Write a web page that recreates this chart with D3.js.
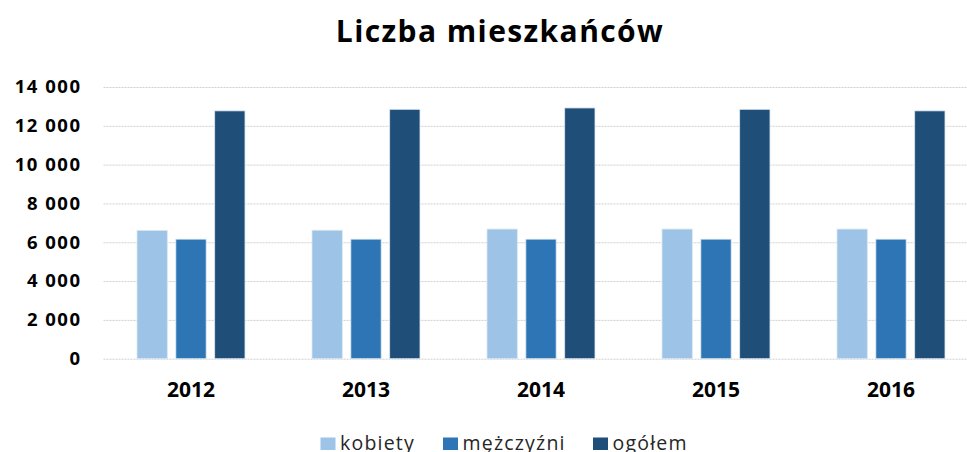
<!DOCTYPE html>
<html>
<head>
<meta charset="utf-8">
<script src="https://cdnjs.cloudflare.com/ajax/libs/d3/7.8.5/d3.min.js"></script>
<style>
  body { margin: 0; background: #fff; }
  svg { display: block; font-family: "Open Sans", sans-serif; }
</style>
</head>
<body>
<div id="viz"></div>
<script>
// values
var years = ["2012", "2013", "2014", "2015", "2016"];
var seriesNames = ["kobiety", "mężczyźni", "ogółem"];
var kobiety = [6610, 6620, 6680, 6680, 6680];
var mezczyzni = [6160, 6160, 6160, 6160, 6160];
var ogolem = [12770, 12850, 12920, 12850, 12770];
var yTicks = [0, 2000, 4000, 6000, 8000, 10000, 12000, 14000];
var colors = ["#9dc3e6", "#2e75b6", "#1f4e79"];

var width = 967, height = 452;
var plotLeft = 103.5, plotRight = 978.5, plotTop = 87, plotBottom = 358.7;

var table = years.map((y, i) => ({ year: y, values: [kobiety[i], mezczyzni[i], ogolem[i]] }));

var pl = d3.formatLocale({ decimal: ",", thousands: "\u00a0", grouping: [3], currency: ["", ""] });
var fmt = pl.format(",d");

var x0 = d3.scaleBand().domain(years).range([plotLeft, plotRight])
  .paddingInner(0.383).paddingOuter(0.1915);
var x1 = d3.scaleBand().domain(seriesNames).range([0, x0.bandwidth()])
  .paddingInner(0.22).paddingOuter(0);
var y = d3.scaleLinear().domain([0, 14000]).range([plotBottom, plotTop]);
var color = d3.scaleOrdinal().domain(seriesNames).range(colors);

var svg = d3.select("#viz").append("svg")
  .attr("width", width)
  .attr("height", height);

// title
svg.append("text")
  .attr("x", 500).attr("y", 42)
  .attr("text-anchor", "middle")
  .style("font-size", "30px")
  .style("font-weight", 700)
  .style("letter-spacing", "1.4px")
  .attr("fill", "#000")
  .text("Liczba mieszkańców");

// y axis with grid
var yAxis = svg.append("g")
  .attr("transform", "translate(" + plotLeft + ",0)")
  .call(d3.axisLeft(y).tickValues(yTicks).tickFormat(fmt).tickSize(-(width - plotLeft)).tickPadding(22));
yAxis.attr("font-family", null).attr("font-size", null);
yAxis.select(".domain").remove();
yAxis.selectAll(".tick line")
  .attr("stroke", "#cfcfcf")
  .attr("stroke-width", 1)
  .attr("stroke-dasharray", "2,1");
yAxis.selectAll(".tick text")
  .style("font-size", "18.5px")
  .style("font-weight", 700)
  .style("letter-spacing", "1.5px")
  .attr("fill", "#000");

// bars
var groups = svg.append("g").selectAll("g")
  .data(table)
  .join("g")
  .attr("transform", d => "translate(" + x0(d.year) + ",0)");

groups.selectAll("rect")
  .data(d => d.values.map((v, i) => ({ name: seriesNames[i], value: v })))
  .join("rect")
  .attr("x", d => x1(d.name))
  .attr("y", d => y(d.value))
  .attr("width", x1.bandwidth())
  .attr("height", d => y(0) - y(d.value))
  .attr("fill", d => color(d.name))
  .attr("stroke", "#dbe7f3")
  .attr("stroke-width", 0.8);

// x axis labels
var xAxis = svg.append("g")
  .attr("transform", "translate(0," + plotBottom + ")")
  .call(d3.axisBottom(x0).tickSize(0).tickPadding(23.5));
xAxis.attr("font-family", null).attr("font-size", null);
xAxis.select(".domain").remove();
xAxis.selectAll(".tick text")
  .style("font-size", "21px")
  .style("font-weight", 700)
  .attr("fill", "#000");

// legend
var legendX = [320.5, 443, 593];
var legend = svg.append("g").selectAll("g")
  .data(seriesNames)
  .join("g")
  .attr("transform", (d, i) => "translate(" + legendX[i] + ",437.5)");
legend.append("rect")
  .attr("width", 15).attr("height", 12.5)
  .attr("fill", d => color(d));
legend.append("text")
  .attr("x", 19.5).attr("y", 12)
  .style("font-size", "19.5px")
  .style("letter-spacing", "1.2px")
  .attr("fill", "#262626")
  .text(d => d);
</script>
</body>
</html>
